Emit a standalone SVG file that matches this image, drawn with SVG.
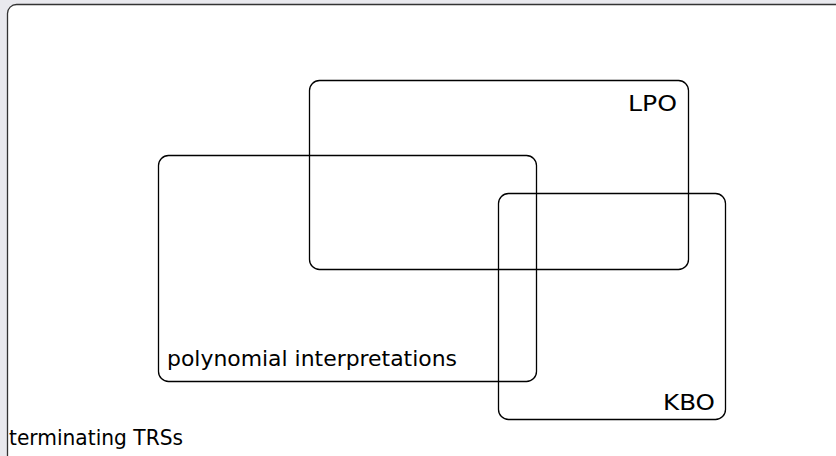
<svg xmlns="http://www.w3.org/2000/svg" width="836" height="456" viewBox="0 0 836 456">
<style>
.box{fill:none;stroke:#000;stroke-width:1.3}
.t{font-family:"DejaVu Sans","Liberation Sans",sans-serif;font-size:22px;fill:#000}
</style>
<rect x="0" y="0" width="836" height="456" fill="#e9e9ee"/>
<g id="terminating">
<rect x="7.5" y="4.5" width="840" height="460" rx="9" fill="#fff" stroke="#333" stroke-width="1.3"/>
<text class="t" x="9" y="445" textLength="174" lengthAdjust="spacingAndGlyphs">terminating TRSs</text>
</g>
<g id="lpo">
<rect class="box" x="309.5" y="80.5" width="379" height="189" rx="10"/>
<text class="t" x="628" y="111" textLength="49" lengthAdjust="spacingAndGlyphs">LPO</text>
</g>
<g id="poly">
<rect class="box" x="158.5" y="155.5" width="378" height="226" rx="10"/>
<text class="t" x="167" y="366" textLength="290" lengthAdjust="spacingAndGlyphs">polynomial interpretations</text>
</g>
<g id="kbo">
<rect class="box" x="498.5" y="193.5" width="227" height="226" rx="10"/>
<text class="t" x="663" y="410" textLength="52" lengthAdjust="spacingAndGlyphs">KBO</text>
</g>
<g id="connectors"/>
</svg>
